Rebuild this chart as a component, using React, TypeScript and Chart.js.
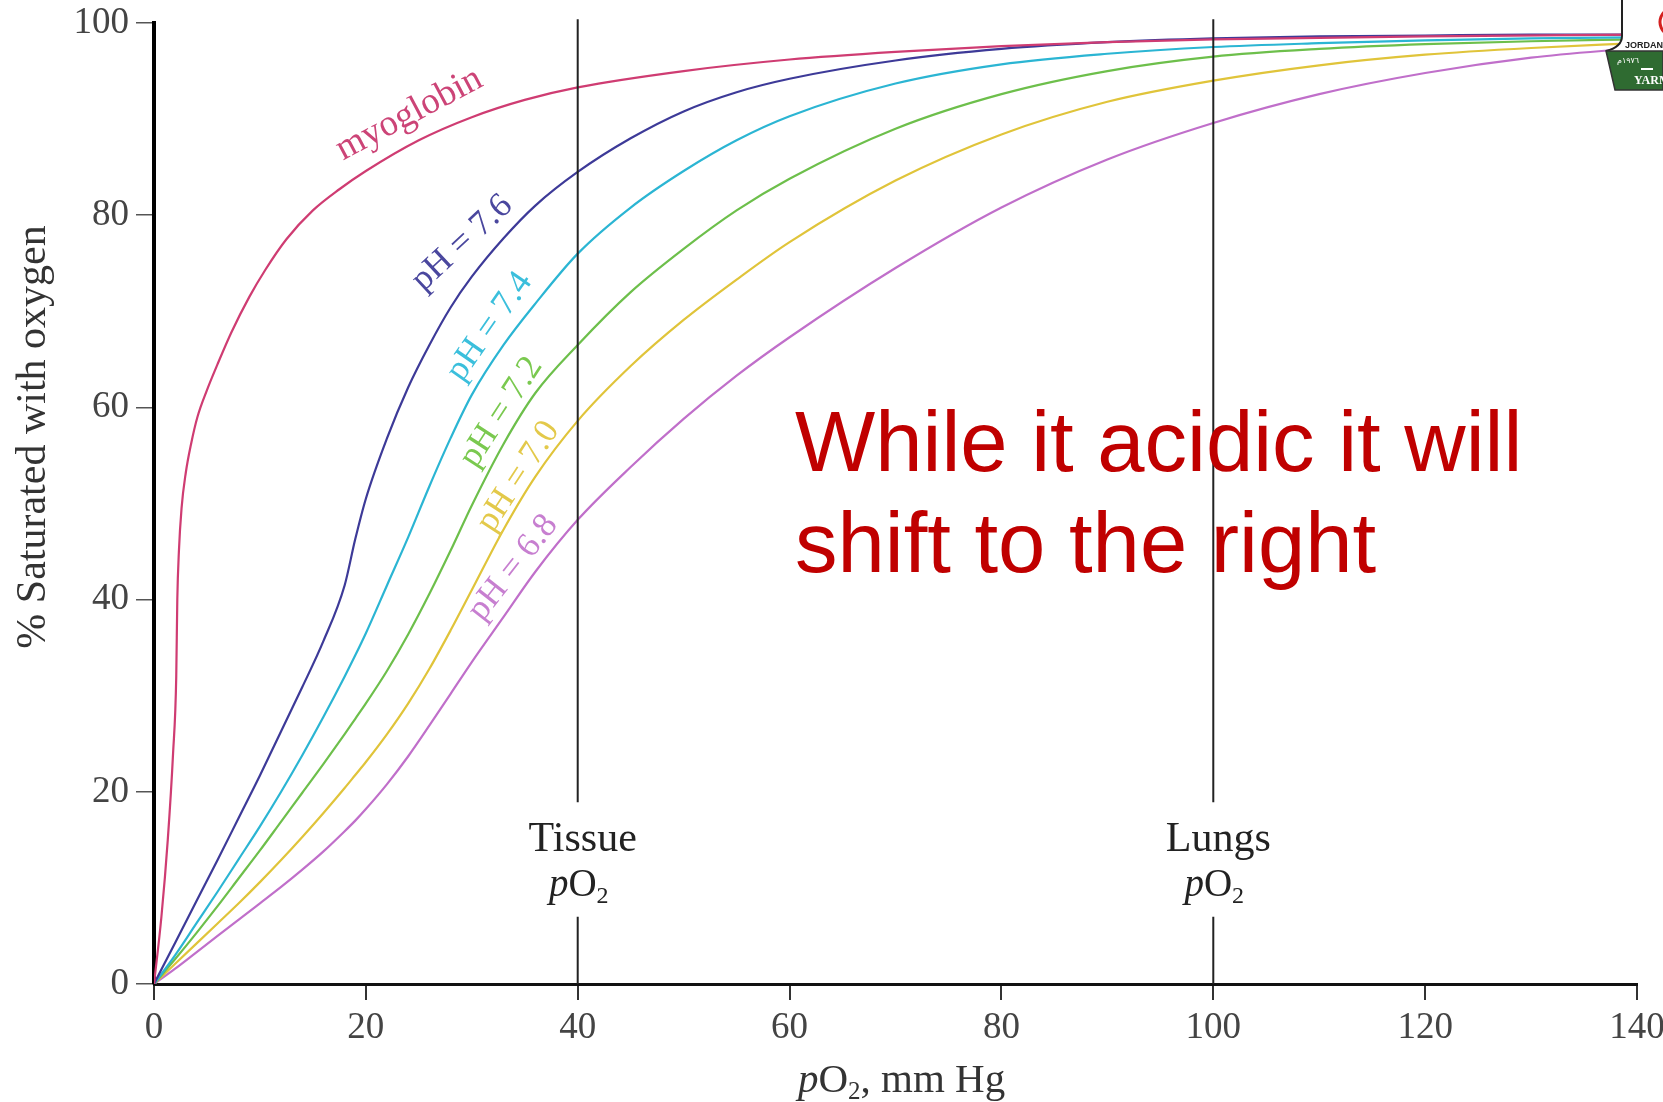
import React, { useEffect, useRef } from 'react';
import { Chart, registerables } from 'chart.js';

Chart.register(...registerables);

// ---------- data ----------
const X_MIN = 0;
const X_MAX = 140;
const Y_MIN = 0;
const Y_MAX = 100;
const X_STEP = 20;
const Y_STEP = 20;

// myoglobin curve
const MYO_PO2 = [0, 0.7, 1.3, 1.8, 2.1, 2.2, 2.35, 2.6, 3.0, 3.5, 4.1, 5, 6, 7.3, 9, 10.5, 12.5, 15, 17.5, 20, 25, 30, 35, 40, 50, 60, 70, 80, 90, 100, 120, 140];
const MYO_SAT = [0, 7, 15, 24, 32, 40, 45, 49.5, 53.2, 56.2, 59, 61.8, 64.5, 67.8, 71.5, 74.3, 77.5, 80.5, 82.7, 84.6, 87.8, 90.2, 92, 93.3, 95, 96.2, 97, 97.6, 98, 98.3, 98.6, 98.8];

// hemoglobin curves at different pH (common pO2 grid)
const HB_PO2 = [0, 2, 4, 6, 8, 10, 12, 14, 16, 18, 19, 20, 22, 24, 26, 28, 30, 33, 36, 40, 45, 50, 55, 60, 70, 80, 90, 100, 110, 120, 130, 140];
const SAT_PH76 = [0, 4.3, 8.6, 12.9, 17.3, 21.7, 26.3, 30.9, 35.7, 41.5, 46.3, 50.5, 56.8, 62.1, 66.5, 70.4, 73.6, 77.6, 81, 84.5, 88, 90.8, 92.8, 94.2, 96.1, 97.3, 98, 98.4, 98.6, 98.7, 98.8, 98.8];
const SAT_PH74 = [0, 3, 6.3, 9.6, 13, 16.4, 20, 23.8, 27.8, 32, 34.2, 36.5, 41.5, 46.5, 51.8, 56.8, 61.3, 66.5, 70.8, 76, 80.8, 84.6, 87.8, 90.3, 93.7, 95.7, 96.8, 97.5, 97.9, 98.2, 98.4, 98.5];
const SAT_PH72 = [0, 2.6, 5.3, 8.1, 11, 13.9, 16.9, 19.9, 22.9, 26.0, 27.6, 29.2, 32.6, 36.4, 40.6, 45.1, 49.8, 56.2, 61.5, 66.5, 72, 76.5, 80.5, 83.8, 89, 92.6, 95, 96.5, 97.3, 97.8, 98.1, 98.3];
const SAT_PH70 = [0, 2.1, 4.2, 6.3, 8.4, 10.6, 12.9, 15.3, 17.8, 20.4, 21.75, 23.1, 26.0, 29.2, 32.8, 36.8, 41.0, 47.3, 52.8, 58.6, 64.3, 69.1, 73.3, 77.2, 83.6, 88.4, 91.8, 94, 95.6, 96.7, 97.4, 97.9];
const SAT_PH68 = [0, 1.6, 3.3, 5, 6.7, 8.4, 10.1, 11.9, 13.8, 15.9, 17, 18.2, 20.8, 23.7, 26.9, 30.2, 33.5, 38.2, 42.9, 48.3, 53.8, 58.8, 63.3, 67.3, 74.5, 80.8, 85.8, 89.6, 92.6, 94.8, 96.4, 97.4];

const SERIES_NAMES = ['myoglobin', 'pH = 7.6', 'pH = 7.4', 'pH = 7.2', 'pH = 7.0', 'pH = 6.8'];
const SERIES_COLORS = ['#cf3c72', '#3d3a98', '#2bb5d3', '#6dbf4b', '#e0c43a', '#c06fca'];
const LABEL_COLORS = ['#cc4477', '#4a479e', '#3bbfdc', '#7ac94f', '#e3c94a', '#c77fd0'];

// curve label anchors (data coordinates) and rotation (deg)
const LABEL_X = [24.1, 29.1, 31.7, 32.8, 34.4, 33.9];
const LABEL_Y = [90.5, 77.1, 68.4, 59.5, 52.8, 43.3];
const LABEL_ANGLE = [-28, -43, -55, -57, -57, -52];

// reference pO2 lines
const REF_PO2 = [40, 100];
const REF_NAMES = ['Tissue', 'Lungs'];
const REF_GAP_LOW = 7; // line resumes below label
const REF_GAP_HIGH = 18.9; // line stops above label
const REF_TOP = 100.4;

const NOTE_LINES = ['While it acidic it will', 'shift to the right'];

const X_TITLE_SUFFIX = ', mm Hg';
const Y_TITLE = '% Saturated with oxygen';

const SERIF = "'Liberation Serif', 'DejaVu Serif', 'Times New Roman', serif";
const SANS = "'Liberation Sans', Arial, 'DejaVu Sans', sans-serif";

function zip(xs: number[], ys: number[]) {
  return xs.map((x, i) => ({ x, y: ys[i] }));
}

function drawPO2(ctx: CanvasRenderingContext2D, cx: number, cy: number, size: number, suffix: string, color: string) {
  ctx.save();
  ctx.fillStyle = color;
  ctx.textBaseline = 'middle';
  ctx.textAlign = 'left';
  const fItal = `italic ${size}px ${SERIF}`;
  const fNorm = `${size}px ${SERIF}`;
  const fSub = `${Math.round(size * 0.62)}px ${SERIF}`;
  ctx.font = fItal;
  const wp = ctx.measureText('p').width;
  ctx.font = fNorm;
  const wo = ctx.measureText('O').width;
  ctx.font = fSub;
  const w2 = ctx.measureText('2').width;
  ctx.font = fNorm;
  const ws = suffix ? ctx.measureText(suffix).width : 0;
  const total = wp + wo + w2 + ws;
  let x = cx - total / 2;
  ctx.font = fItal;
  ctx.fillText('p', x, cy);
  x += wp;
  ctx.font = fNorm;
  ctx.fillText('O', x, cy);
  x += wo;
  ctx.font = fSub;
  ctx.fillText('2', x, cy + size * 0.28);
  x += w2;
  if (suffix) {
    ctx.font = fNorm;
    ctx.fillText(suffix, x, cy);
  }
  ctx.restore();
}

const overlayPlugin = {
  id: 'overlay',
  afterDatasetsDraw(chart: any) {
    const ctx: CanvasRenderingContext2D = chart.ctx;
    const xs = chart.scales.x;
    const ys = chart.scales.y;
    // curve labels
    SERIES_NAMES.forEach((name, i) => {
      const px = xs.getPixelForValue(LABEL_X[i]);
      const py = ys.getPixelForValue(LABEL_Y[i]);
      ctx.save();
      ctx.translate(px, py);
      ctx.rotate((LABEL_ANGLE[i] * Math.PI) / 180);
      ctx.font = `${i === 0 ? 37 : 35}px ${SERIF}`;
      ctx.fillStyle = LABEL_COLORS[i];
      ctx.textAlign = 'center';
      ctx.textBaseline = 'middle';
      ctx.fillText(name, 0, 0);
      ctx.restore();
    });
    // reference labels
    REF_PO2.forEach((v, i) => {
      const px = xs.getPixelForValue(v);
      ctx.save();
      ctx.font = `42px ${SERIF}`;
      ctx.fillStyle = '#222';
      ctx.textAlign = 'center';
      ctx.textBaseline = 'middle';
      ctx.fillText(REF_NAMES[i], px + 5, 840);
      ctx.restore();
      drawPO2(ctx, px + 1, 886, 39, '', '#222');
    });
  },
  afterDraw(chart: any) {
    const ctx: CanvasRenderingContext2D = chart.ctx;
    const area = chart.chartArea;
    // y title
    ctx.save();
    ctx.translate(34, 437);
    ctx.rotate(-Math.PI / 2);
    ctx.font = `42px ${SERIF}`;
    ctx.fillStyle = '#333';
    ctx.textAlign = 'center';
    ctx.textBaseline = 'middle';
    ctx.fillText(Y_TITLE, 0, 0);
    ctx.restore();
    // x title
    drawPO2(ctx, (area.left + area.right) / 2 + 6, 1081, 41, X_TITLE_SUFFIX, '#333');
    // note text
    ctx.save();
    ctx.font = `85px ${SANS}`;
    ctx.fillStyle = '#c00000';
    ctx.textAlign = 'left';
    ctx.textBaseline = 'alphabetic';
    ctx.fillText(NOTE_LINES[0], 795, 471);
    ctx.fillText(NOTE_LINES[1], 795, 572);
    ctx.restore();
    // logo (partial, top-right)
    ctx.save();
    ctx.fillStyle = '#ffffff';
    ctx.beginPath();
    ctx.moveTo(1622, 0);
    ctx.lineTo(1622, 36);
    ctx.quadraticCurveTo(1622, 47, 1606, 51);
    ctx.lineTo(1663, 51);
    ctx.lineTo(1663, 0);
    ctx.closePath();
    ctx.fill();
    ctx.strokeStyle = '#222';
    ctx.lineWidth = 2;
    ctx.beginPath();
    ctx.moveTo(1622, 0);
    ctx.lineTo(1622, 36);
    ctx.quadraticCurveTo(1622, 47, 1606, 51);
    ctx.stroke();
    ctx.fillStyle = '#2f6b31';
    ctx.beginPath();
    ctx.moveTo(1606, 51);
    ctx.lineTo(1663, 51);
    ctx.lineTo(1663, 90);
    ctx.lineTo(1615, 90);
    ctx.closePath();
    ctx.fill();
    ctx.strokeStyle = '#333';
    ctx.lineWidth = 1.5;
    ctx.stroke();
    ctx.fillStyle = '#222';
    ctx.font = `bold 9px ${SANS}`;
    ctx.fillText('JORDAN', 1625, 48);
    ctx.strokeStyle = '#d42020';
    ctx.lineWidth = 3;
    ctx.beginPath();
    ctx.arc(1674, 22, 14, Math.PI * 0.62, Math.PI * 1.38);
    ctx.stroke();
    ctx.fillStyle = '#ffffff';
    ctx.font = `bold 12px ${SERIF}`;
    ctx.fillText('YARMOUK', 1634, 84);
    ctx.font = `8px ${SANS}`;
    ctx.fillText('١٩٧٦م', 1617, 63);
    ctx.fillRect(1641, 68, 12, 2);
    ctx.restore();
  },
};

export default function App() {
  const canvasRef = useRef<HTMLCanvasElement | null>(null);

  useEffect(() => {
    document.body.style.margin = '0';
    const canvas = canvasRef.current;
    if (!canvas) return;

    const curveSets = [
      zip(MYO_PO2, MYO_SAT),
      zip(HB_PO2, SAT_PH76),
      zip(HB_PO2, SAT_PH74),
      zip(HB_PO2, SAT_PH72),
      zip(HB_PO2, SAT_PH70),
      zip(HB_PO2, SAT_PH68),
    ];

    const datasets: any[] = curveSets.map((d, i) => ({
      label: SERIES_NAMES[i],
      data: d,
      borderColor: SERIES_COLORS[i],
      borderWidth: 2.2,
      pointRadius: 0,
      fill: false,
      cubicInterpolationMode: 'monotone',
      order: 2 + i,
    }));

    REF_PO2.forEach((v, i) => {
      datasets.push({
        label: REF_NAMES[i],
        data: [
          { x: v, y: Y_MIN },
          { x: v, y: REF_GAP_LOW },
          { x: v, y: null },
          { x: v, y: REF_GAP_HIGH },
          { x: v, y: REF_TOP },
        ],
        borderColor: '#222',
        borderWidth: 2,
        pointRadius: 0,
        fill: false,
        spanGaps: false,
        clip: false,
        order: 0,
      });
    });

    const chart = new Chart(canvas, {
      type: 'line',
      data: { datasets },
      plugins: [overlayPlugin],
      options: {
        animation: false,
        responsive: false,
        devicePixelRatio: 1,
        layout: { padding: { top: 23, right: 26, left: 0, bottom: 0 } },
        plugins: {
          legend: { display: false },
          tooltip: { enabled: false },
          title: { display: false },
        },
        scales: {
          x: {
            type: 'linear',
            min: X_MIN,
            max: X_MAX,
            border: { display: true, color: '#111', width: 3 },
            grid: { display: true, drawOnChartArea: false, drawTicks: true, tickLength: 16, color: '#333', lineWidth: 2 },
            ticks: {
              stepSize: X_STEP,
              padding: 6,
              color: '#444',
              font: { family: SERIF, size: 37 },
              maxRotation: 0,
              autoSkip: false,
            },
            afterFit(scale: any) {
              scale.height = 118;
              scale.paddingLeft = 0;
              scale.paddingRight = 0;
            },
          },
          y: {
            type: 'linear',
            min: Y_MIN,
            max: Y_MAX,
            border: { display: true, color: '#000', width: 4 },
            grid: { display: true, drawOnChartArea: false, drawTicks: true, tickLength: 18, color: '#555', lineWidth: 1.5 },
            ticks: {
              stepSize: Y_STEP,
              padding: 7,
              color: '#444',
              font: { family: SERIF, size: 37 },
              autoSkip: false,
            },
            afterFit(scale: any) {
              scale.width = 154;
              scale.paddingTop = 0;
              scale.paddingBottom = 0;
            },
          },
        },
      } as any,
    });

    return () => {
      chart.destroy();
    };
  }, []);

  return (
    <div style={{ position: 'absolute', left: 0, top: 0, width: 1663, height: 1102, background: '#fff' }}>
      <canvas ref={canvasRef} width={1663} height={1102} style={{ display: 'block', width: 1663, height: 1102 }} />
    </div>
  );
}
